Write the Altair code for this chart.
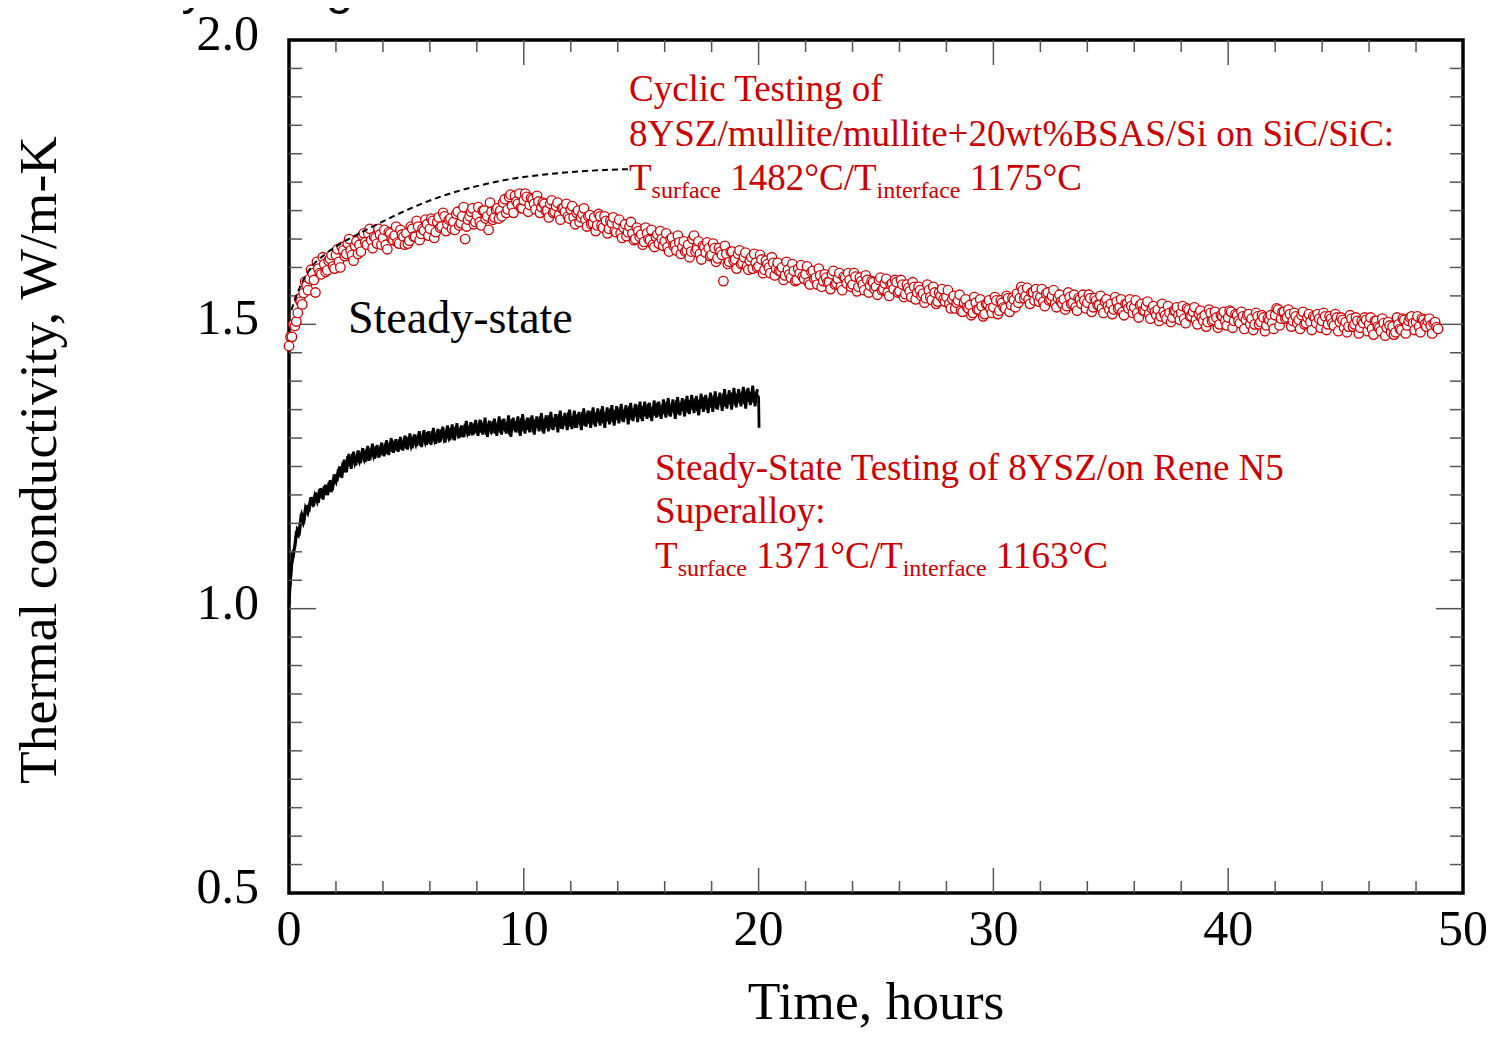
import altair as alt
import pandas as pd

SERIF = "Liberation Serif"
SANS = "Liberation Sans"
RED = "#cc0000"
TICK = "#555555"
W, H = 1174, 853

# ---- cyclic test (red open circles), 16 readings per hour from t = 0 h ----
# readings at whole eighths of an hour
red_k = [
    1.462, 1.478, 1.497, 1.520, 1.540, 1.555, 1.568, 1.580,
    1.590, 1.556, 1.598, 1.588, 1.606, 1.595, 1.615, 1.602,
    1.622, 1.610, 1.636, 1.620, 1.642, 1.630, 1.612, 1.646,
    1.640, 1.656, 1.644, 1.660, 1.648, 1.654, 1.642, 1.658,
    1.652, 1.640, 1.662, 1.650, 1.656, 1.644, 1.666, 1.654,
    1.660, 1.647, 1.668, 1.654, 1.672, 1.659, 1.665, 1.676,
    1.668, 1.682, 1.662, 1.688, 1.672, 1.690, 1.676, 1.686,
    1.680, 1.694, 1.674, 1.690, 1.650, 1.684, 1.698, 1.676,
    1.692, 1.680, 1.700, 1.686, 1.666, 1.698, 1.688, 1.704,
    1.700, 1.714, 1.696, 1.724, 1.708, 1.726, 1.712, 1.705,
    1.718, 1.724, 1.710, 1.720, 1.702, 1.716, 1.706, 1.712,
    1.700, 1.712, 1.696, 1.708, 1.692, 1.704, 1.698, 1.690,
    1.702, 1.688, 1.696, 1.680, 1.694, 1.684, 1.690, 1.676,
    1.688, 1.674, 1.690, 1.670, 1.682, 1.668, 1.678, 1.664,
    1.676, 1.660, 1.670, 1.655, 1.672, 1.660, 1.650, 1.664,
    1.658, 1.645, 1.660, 1.648, 1.640, 1.654, 1.642, 1.650,
    1.646, 1.636, 1.650, 1.638, 1.630, 1.644, 1.636, 1.628,
    1.640, 1.628, 1.656, 1.632, 1.624, 1.638, 1.626, 1.634,
    1.622, 1.634, 1.616, 1.628, 1.576, 1.624, 1.610, 1.628,
    1.614, 1.624, 1.606, 1.618, 1.602, 1.612, 1.598, 1.608,
    1.602, 1.614, 1.596, 1.606, 1.590, 1.608, 1.598, 1.594,
    1.600, 1.586, 1.596, 1.582, 1.594, 1.578, 1.590, 1.584,
    1.588, 1.574, 1.592, 1.580, 1.570, 1.586, 1.576, 1.582,
    1.574, 1.588, 1.570, 1.580, 1.566, 1.584, 1.572, 1.578,
    1.570, 1.584, 1.566, 1.576, 1.560, 1.578, 1.568, 1.574,
    1.566, 1.578, 1.560, 1.572, 1.556, 1.570, 1.562, 1.574,
    1.558, 1.570, 1.553, 1.564, 1.548, 1.566, 1.556, 1.560,
    1.554, 1.546, 1.560, 1.543, 1.556, 1.540, 1.550, 1.544,
    1.548, 1.536, 1.544, 1.528, 1.542, 1.524, 1.538, 1.530,
    1.534, 1.520, 1.538, 1.526, 1.532, 1.518, 1.536, 1.528,
    1.530, 1.542, 1.524, 1.538, 1.528, 1.546, 1.534, 1.543,
    1.554, 1.546, 1.560, 1.550, 1.544, 1.556, 1.542, 1.550,
    1.548, 1.540, 1.554, 1.542, 1.550, 1.536, 1.546, 1.540,
    1.544, 1.532, 1.548, 1.538, 1.530, 1.546, 1.536, 1.542,
    1.538, 1.546, 1.530, 1.542, 1.534, 1.528, 1.540, 1.532,
    1.536, 1.526, 1.540, 1.530, 1.522, 1.536, 1.528, 1.532,
    1.530, 1.520, 1.534, 1.524, 1.532, 1.518, 1.528, 1.522,
    1.526, 1.514, 1.522, 1.510, 1.520, 1.512, 1.524, 1.516,
    1.520, 1.510, 1.528, 1.514, 1.522, 1.508, 1.518, 1.512,
    1.516, 1.504, 1.520, 1.508, 1.512, 1.500, 1.514, 1.506,
    1.512, 1.522, 1.506, 1.516, 1.502, 1.514, 1.508, 1.518,
    1.510, 1.500, 1.514, 1.504, 1.512, 1.498, 1.508, 1.502,
    1.516, 1.526, 1.510, 1.522, 1.512, 1.518, 1.506, 1.514,
    1.508, 1.516, 1.500, 1.512, 1.504, 1.514, 1.502, 1.510,
    1.506, 1.514, 1.500, 1.510, 1.498, 1.512, 1.504, 1.508,
    1.504, 1.496, 1.510, 1.500, 1.506, 1.494, 1.502, 1.508,
    1.500, 1.492, 1.506, 1.496, 1.488, 1.502, 1.494, 1.498,
    1.496, 1.486, 1.500, 1.490, 1.508, 1.498, 1.512, 1.502,
    1.504, 1.496, 1.510, 1.500, 1.506, 1.498, 1.502, 1.495,
]
# readings half-way between them (t + 1/16 h)
red_k2 = [
    1.478, 1.500, 1.505, 1.545, 1.535, 1.575, 1.560, 1.596,
    1.578, 1.610, 1.590, 1.618, 1.592, 1.612, 1.622, 1.598,
    1.632, 1.600, 1.630, 1.624, 1.650, 1.622, 1.638, 1.624,
    1.628, 1.660, 1.640, 1.668, 1.634, 1.652, 1.668, 1.640,
    1.666, 1.632, 1.660, 1.648, 1.672, 1.642, 1.658, 1.640,
    1.642, 1.672, 1.654, 1.682, 1.648, 1.668, 1.684, 1.656,
    1.686, 1.652, 1.680, 1.670, 1.696, 1.664, 1.684, 1.668,
    1.666, 1.698, 1.678, 1.706, 1.672, 1.690, 1.704, 1.680,
    1.706, 1.674, 1.700, 1.690, 1.714, 1.684, 1.702, 1.686,
    1.690, 1.720, 1.702, 1.728, 1.696, 1.716, 1.730, 1.704,
    1.730, 1.698, 1.722, 1.712, 1.726, 1.696, 1.714, 1.700,
    1.688, 1.718, 1.698, 1.714, 1.684, 1.704, 1.712, 1.686,
    1.708, 1.676, 1.700, 1.688, 1.704, 1.672, 1.692, 1.678,
    1.664, 1.694, 1.674, 1.690, 1.660, 1.682, 1.688, 1.662,
    1.684, 1.652, 1.676, 1.662, 1.680, 1.648, 1.670, 1.654,
    1.640, 1.670, 1.650, 1.666, 1.636, 1.658, 1.664, 1.638,
    1.660, 1.628, 1.652, 1.640, 1.656, 1.624, 1.646, 1.630,
    1.618, 1.650, 1.628, 1.646, 1.614, 1.636, 1.644, 1.620,
    1.642, 1.610, 1.634, 1.622, 1.638, 1.606, 1.628, 1.612,
    1.598, 1.630, 1.608, 1.626, 1.596, 1.618, 1.624, 1.600,
    1.622, 1.590, 1.612, 1.600, 1.618, 1.586, 1.608, 1.594,
    1.578, 1.610, 1.588, 1.606, 1.576, 1.598, 1.604, 1.580,
    1.602, 1.570, 1.594, 1.582, 1.598, 1.566, 1.588, 1.574,
    1.562, 1.594, 1.572, 1.590, 1.560, 1.582, 1.590, 1.566,
    1.590, 1.558, 1.582, 1.570, 1.586, 1.556, 1.576, 1.562,
    1.552, 1.582, 1.562, 1.580, 1.550, 1.572, 1.578, 1.556,
    1.578, 1.548, 1.570, 1.558, 1.574, 1.544, 1.566, 1.550,
    1.538, 1.570, 1.548, 1.566, 1.536, 1.556, 1.562, 1.540,
    1.560, 1.528, 1.550, 1.538, 1.552, 1.522, 1.544, 1.528,
    1.516, 1.548, 1.526, 1.544, 1.514, 1.536, 1.542, 1.520,
    1.548, 1.518, 1.542, 1.530, 1.550, 1.522, 1.546, 1.530,
    1.538, 1.566, 1.546, 1.564, 1.536, 1.556, 1.562, 1.540,
    1.562, 1.532, 1.556, 1.544, 1.560, 1.530, 1.552, 1.536,
    1.526, 1.556, 1.536, 1.552, 1.524, 1.544, 1.552, 1.528,
    1.552, 1.522, 1.546, 1.534, 1.550, 1.520, 1.544, 1.526,
    1.518, 1.548, 1.528, 1.544, 1.516, 1.536, 1.544, 1.520,
    1.542, 1.512, 1.536, 1.524, 1.540, 1.510, 1.532, 1.516,
    1.506, 1.536, 1.516, 1.532, 1.504, 1.524, 1.530, 1.508,
    1.532, 1.502, 1.526, 1.514, 1.530, 1.500, 1.524, 1.506,
    1.496, 1.526, 1.506, 1.522, 1.494, 1.516, 1.522, 1.498,
    1.524, 1.494, 1.518, 1.506, 1.522, 1.492, 1.516, 1.500,
    1.490, 1.520, 1.500, 1.516, 1.488, 1.510, 1.516, 1.492,
    1.528, 1.498, 1.522, 1.510, 1.526, 1.496, 1.520, 1.502,
    1.492, 1.522, 1.502, 1.518, 1.490, 1.512, 1.518, 1.494,
    1.520, 1.490, 1.514, 1.502, 1.518, 1.488, 1.512, 1.494,
    1.486, 1.516, 1.496, 1.512, 1.484, 1.506, 1.512, 1.488,
    1.512, 1.482, 1.506, 1.494, 1.510, 1.480, 1.504, 1.486,
    1.482, 1.512, 1.492, 1.510, 1.484, 1.506, 1.514, 1.490,
    1.514, 1.486, 1.508, 1.496, 1.510, 1.484, 1.504, 1.492,
]
red_t = [i / 8 for i in range(len(red_k))]
red_t2 = [i / 8 + 1 / 16 for i in range(len(red_k2))]

# ---- steady-state test (black noisy trace) ----
# readings every 0.1 h
black_k = [
    1.006, 1.075, 1.095, 1.132, 1.128, 1.160, 1.150, 1.178, 1.168, 1.190,
    1.183, 1.200, 1.188, 1.210, 1.195, 1.215, 1.200, 1.222, 1.205, 1.230,
    1.222, 1.245, 1.232, 1.258, 1.240, 1.268, 1.250, 1.272, 1.255, 1.270,
    1.258, 1.275, 1.262, 1.280, 1.260, 1.282, 1.268, 1.285, 1.266, 1.284,
    1.270, 1.290, 1.272, 1.292, 1.276, 1.295, 1.278, 1.298, 1.280, 1.296,
    1.282, 1.302, 1.285, 1.300, 1.288, 1.306, 1.287, 1.305, 1.292, 1.310,
    1.290, 1.312, 1.295, 1.308, 1.292, 1.315, 1.298, 1.312, 1.300, 1.318,
    1.298, 1.320, 1.305, 1.316, 1.302, 1.325, 1.308, 1.320, 1.305, 1.326,
    1.308, 1.325, 1.310, 1.328, 1.306, 1.324, 1.312, 1.330, 1.308, 1.327,
    1.310, 1.332, 1.312, 1.328, 1.306, 1.333, 1.314, 1.330, 1.309, 1.335,
    1.312, 1.330, 1.315, 1.336, 1.310, 1.332, 1.318, 1.338, 1.312, 1.334,
    1.318, 1.340, 1.316, 1.335, 1.320, 1.342, 1.317, 1.338, 1.322, 1.345,
    1.320, 1.338, 1.318, 1.342, 1.325, 1.346, 1.322, 1.340, 1.326, 1.348,
    1.324, 1.345, 1.328, 1.350, 1.326, 1.346, 1.330, 1.352, 1.328, 1.349,
    1.332, 1.354, 1.330, 1.350, 1.335, 1.356, 1.332, 1.352, 1.338, 1.358,
    1.334, 1.356, 1.338, 1.360, 1.336, 1.355, 1.340, 1.362, 1.338, 1.358,
    1.342, 1.364, 1.340, 1.360, 1.345, 1.366, 1.342, 1.362, 1.348, 1.368,
    1.345, 1.366, 1.350, 1.370, 1.347, 1.368, 1.352, 1.372, 1.350, 1.370,
    1.354, 1.375, 1.352, 1.372, 1.358, 1.378, 1.355, 1.376, 1.360, 1.380,
    1.358, 1.378, 1.362, 1.382, 1.360, 1.385, 1.364, 1.380, 1.362, 1.378,
    1.372, 1.318,
]
black_t = [i / 10 for i in range(len(black_k) - 1)] + [20.02]
# readings half-way between them (t + 0.05 h)
black_k2 = [
    1.040, 1.098, 1.108, 1.140, 1.134, 1.166, 1.156, 1.182, 1.170, 1.196,
    1.180, 1.204, 1.186, 1.212, 1.192, 1.218, 1.200, 1.226, 1.208, 1.236,
    1.224, 1.250, 1.230, 1.262, 1.240, 1.272, 1.246, 1.276, 1.252, 1.278,
    1.256, 1.282, 1.258, 1.286, 1.262, 1.290, 1.264, 1.288, 1.266, 1.292,
    1.268, 1.296, 1.270, 1.300, 1.274, 1.298, 1.276, 1.302, 1.278, 1.304,
    1.280, 1.308, 1.282, 1.306, 1.286, 1.312, 1.284, 1.314, 1.288, 1.312,
    1.288, 1.318, 1.290, 1.316, 1.294, 1.320, 1.292, 1.322, 1.296, 1.324,
    1.296, 1.326, 1.300, 1.322, 1.302, 1.330, 1.304, 1.328, 1.306, 1.332,
    1.304, 1.332, 1.306, 1.336, 1.302, 1.330, 1.308, 1.334, 1.304, 1.338,
    1.306, 1.334, 1.308, 1.340, 1.302, 1.336, 1.310, 1.338, 1.304, 1.342,
    1.308, 1.336, 1.310, 1.340, 1.306, 1.338, 1.312, 1.344, 1.308, 1.340,
    1.312, 1.346, 1.314, 1.342, 1.310, 1.348, 1.316, 1.344, 1.314, 1.350,
    1.316, 1.348, 1.318, 1.346, 1.314, 1.352, 1.320, 1.348, 1.318, 1.354,
    1.320, 1.352, 1.322, 1.356, 1.318, 1.354, 1.324, 1.358, 1.322, 1.356,
    1.326, 1.360, 1.328, 1.358, 1.324, 1.362, 1.330, 1.360, 1.328, 1.364,
    1.330, 1.364, 1.334, 1.362, 1.330, 1.366, 1.336, 1.364, 1.334, 1.368,
    1.336, 1.370, 1.338, 1.368, 1.334, 1.372, 1.340, 1.370, 1.338, 1.374,
    1.342, 1.376, 1.344, 1.374, 1.340, 1.378, 1.346, 1.376, 1.344, 1.380,
    1.346, 1.382, 1.350, 1.380, 1.348, 1.386, 1.352, 1.384, 1.350, 1.388,
    1.354, 1.386, 1.356, 1.390, 1.352, 1.388, 1.358, 1.392, 1.356, 1.386,
]
black_t2 = [i / 10 + 0.05 for i in range(len(black_k2))]

# ---- dashed guide curve ----
dash_t = [0.1, 0.47, 1.0, 1.5, 2.2, 3.0, 3.9, 5.3, 6.7, 8.1, 9.5, 11.0, 12.4, 14.5]
dash_k = [1.525, 1.566, 1.603, 1.622, 1.642, 1.660, 1.679, 1.706, 1.728, 1.744,
          1.756, 1.764, 1.769, 1.773]

# ---- axis labels and tick positions ----
x_labels = [0, 10, 20, 30, 40, 50]
y_labels = [0.5, 1.0, 1.5, 2.0]
x_major = [10, 20, 30, 40]
x_minor = [2, 4, 6, 8, 12, 14, 16, 18, 22, 24, 26, 28, 32, 34, 36, 38, 42, 44, 46, 48]
y_major = [1.0, 1.5]
y_minor = [0.55, 0.6, 0.65, 0.7, 0.75, 0.8, 0.85, 0.9, 0.95,
           1.05, 1.1, 1.15, 1.2, 1.25, 1.3, 1.35, 1.4, 1.45,
           1.55, 1.6, 1.65, 1.7, 1.75, 1.8, 1.85, 1.9, 1.95]
x_title = "Time, hours"
y_title = "Thermal conductivity, W/m-K"

xs = alt.Scale(domain=[0, 50], nice=False, zero=False)
ys = alt.Scale(domain=[0.5, 2.0], nice=False, zero=False)

red_df = pd.DataFrame({"t": red_t + red_t2, "k": red_k + red_k2}).sort_values("t")
black_df = pd.DataFrame({"t": black_t, "k": black_k})
black_df2 = pd.DataFrame({"t": black_t2, "k": black_k2})
dash_df = pd.DataFrame({"t": dash_t, "k": dash_k})


def series_xy():
    return dict(x=alt.X("t:Q", scale=xs, axis=None), y=alt.Y("k:Q", scale=ys, axis=None))


black_line = alt.Chart(black_df).mark_line(color="black", strokeWidth=2.8).encode(**series_xy())
black_line2 = alt.Chart(black_df2).mark_line(color="black", strokeWidth=2.8).encode(**series_xy())
red_pts = alt.Chart(red_df).mark_point(
    shape="circle", filled=True, fill="white", stroke=RED, strokeWidth=1.3, size=90, opacity=1
).encode(**series_xy())
dash_line = alt.Chart(dash_df).mark_line(
    color="black", strokeWidth=2, strokeDash=[6, 4], interpolate="monotone"
).encode(**series_xy())


def xticks(vals, length, top):
    c = alt.Chart(pd.DataFrame({"tick": vals})).mark_rule(color=TICK, strokeWidth=1.5)
    if top:
        return c.encode(x=alt.X("tick:Q", scale=xs, axis=None), y=alt.value(0), y2=alt.value(length))
    return c.encode(x=alt.X("tick:Q", scale=xs, axis=None), y=alt.value(H), y2=alt.value(H - length))


def yticks(vals, length, right):
    c = alt.Chart(pd.DataFrame({"tick": vals})).mark_rule(color=TICK, strokeWidth=1.5)
    if right:
        return c.encode(y=alt.Y("tick:Q", scale=ys, axis=None), x=alt.value(W), x2=alt.value(W - length))
    return c.encode(y=alt.Y("tick:Q", scale=ys, axis=None), x=alt.value(0), x2=alt.value(length))


tick_layers = [
    xticks(x_minor, 12, False), xticks(x_major, 25, False),
    xticks(x_minor, 12, True), xticks(x_major, 25, True),
    yticks(y_minor, 13, False), yticks(y_major, 27, False),
    yticks(y_minor, 13, True), yticks(y_major, 27, True),
]

x_tick_labels = alt.Chart(pd.DataFrame({"v": x_labels})).mark_text(
    font=SERIF, fontSize=50, color="black", align="center", baseline="alphabetic"
).encode(
    x=alt.X("v:Q", scale=xs, axis=None), y=alt.value(H + 52), text=alt.Text("v:Q", format="d")
)
y_tick_labels = alt.Chart(pd.DataFrame({"v": y_labels})).mark_text(
    font=SERIF, fontSize=50, color="black", align="right", baseline="alphabetic", dy=10
).encode(
    y=alt.Y("v:Q", scale=ys, axis=None), x=alt.value(-30), text=alt.Text("v:Q", format=".1f")
)

one = pd.DataFrame({"d": [0]})

x_title_mark = alt.Chart(one).mark_text(
    text=x_title, font=SERIF, fontSize=53.5, color="black", align="center", baseline="alphabetic"
).encode(x=alt.value(W / 2), y=alt.value(H + 126))
y_title_mark = alt.Chart(one).mark_text(
    text=y_title, font=SERIF, fontSize=53.5, color="black", align="center", baseline="alphabetic",
    angle=270,
).encode(x=alt.value(-233), y=alt.value(420))


def label(text, x, y, size, color, dx=0, dy=0, font=SERIF, align="left"):
    return alt.Chart(one).mark_text(
        text=text, font=font, fontSize=size, color=color, align=align,
        baseline="alphabetic", dx=dx, dy=dy,
    ).encode(
        x=alt.X(datum=x, type="quantitative", scale=xs, axis=None),
        y=alt.Y(datum=y, type="quantitative", scale=ys, axis=None),
    )


texts = [
    label("Thermal conductivity changes", 4.94, 2.064, 49, "black", font=SANS, align="right"),
    label("Steady-state", 2.51, 1.4848, 46, "black"),
    # cyclic block
    label("Cyclic Testing of", 14.48, 1.8927, 37, RED),
    label("8YSZ/mullite/mullite+20wt%BSAS/Si on SiC/SiC:", 14.48, 1.8136, 37, RED),
    label("T", 14.48, 1.7362, 37, RED),
    label("surface", 14.48, 1.7362, 24, RED, dx=22.6, dy=8),
    label("1482°C/T", 14.48, 1.7362, 37, RED, dx=101.2),
    label("interface", 14.48, 1.7362, 24, RED, dx=247.6, dy=8),
    label("1175°C", 14.48, 1.7362, 37, RED, dx=340.8),
    # steady-state block
    label("Steady-State Testing of 8YSZ/on Rene N5", 15.59, 1.2263, 37, RED),
    label("Superalloy:", 15.59, 1.1506, 37, RED),
    label("T", 15.59, 1.0715, 37, RED),
    label("surface", 15.59, 1.0715, 24, RED, dx=22.6, dy=8),
    label("1371°C/T", 15.59, 1.0715, 37, RED, dx=101.2),
    label("interface", 15.59, 1.0715, 24, RED, dx=247.6, dy=8),
    label("1163°C", 15.59, 1.0715, 37, RED, dx=340.8),
]

chart = alt.layer(
    black_line, black_line2, *tick_layers, red_pts, dash_line,
    x_tick_labels, y_tick_labels, x_title_mark, y_title_mark, *texts
).properties(
    width=W, height=H,
    autosize=alt.AutoSizeParams(type="none"),
    padding={"left": 281, "top": 32, "right": 23, "bottom": 137},
).configure_view(
    stroke="black", strokeWidth=3.5
)

chart.save("out.html", embed_options={"renderer": "svg", "actions": False})
